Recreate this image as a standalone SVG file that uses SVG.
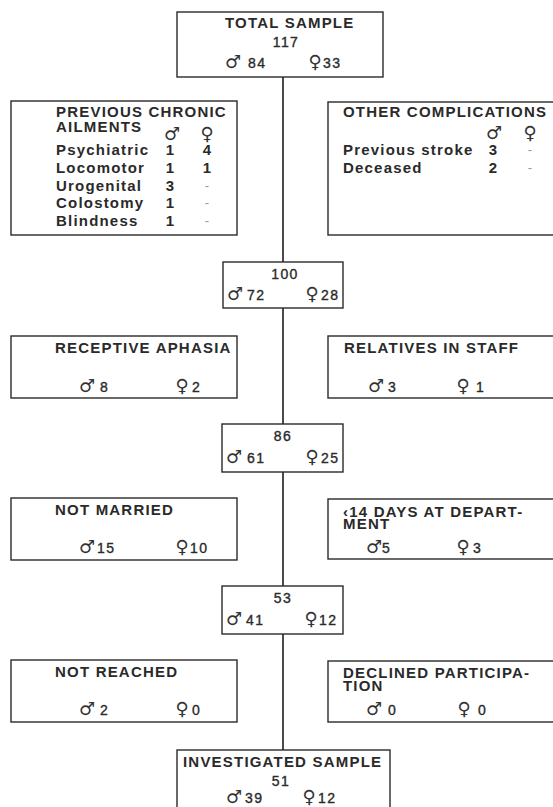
<svg xmlns="http://www.w3.org/2000/svg" width="553" height="807" viewBox="0 0 553 807">
<style>
.box{fill:#fff;stroke:#2a2a2a;stroke-width:1.4}
.ln{stroke:#1e1e1e;stroke-width:1.6;fill:none}
.t{font-family:"Liberation Sans",Arial,sans-serif;font-weight:bold;font-size:15px;letter-spacing:1.2px;fill:#2a2a2a}
.n{font-family:"Liberation Sans",Arial,sans-serif;font-size:14px;letter-spacing:1.4px;fill:#2a2a2a;stroke:#2a2a2a;stroke-width:0.35}
.nb{font-family:"Liberation Sans",Arial,sans-serif;font-weight:bold;font-size:15px;fill:#2a2a2a;text-anchor:middle}
.m{font-family:"DejaVu Sans",sans-serif;font-size:18px;fill:#333;text-anchor:middle}
.c{text-anchor:middle}
.d{font-family:"Liberation Sans",Arial,sans-serif;font-size:13px;fill:#999;text-anchor:middle}
</style>
<rect width="553" height="807" fill="#fff"/>
<g id="connectors">
<line class="ln" x1="283" y1="77" x2="283" y2="262"/>
<line class="ln" x1="283" y1="308" x2="283" y2="424"/>
<line class="ln" x1="283" y1="472" x2="283" y2="586"/>
<line class="ln" x1="283" y1="634" x2="283" y2="750"/>
</g>
<g id="total-sample">
<rect class="box" x="177" y="12" width="206" height="65"/>
<text class="t" x="225" y="28">TOTAL SAMPLE</text>
<text class="n c" x="286" y="47">117</text>
<text class="m" x="233" y="68">♂</text><text class="n" x="248" y="68">84</text>
<text class="m" x="315" y="68">♀</text><text class="n" x="323" y="68">33</text>
</g>
<g id="previous-chronic-ailments">
<rect class="box" x="11" y="101" width="226" height="134"/>
<text class="t" x="56" y="117">PREVIOUS CHRONIC<tspan x="56" y="132">AILMENTS</tspan></text>
<text class="m" x="172" y="140">♂</text><text class="m" x="207" y="140">♀</text>
<text class="t" x="56" y="155">Psychiatric</text><text class="nb" x="170" y="155">1</text><text class="nb" x="207" y="155">4</text>
<text class="t" x="56" y="173">Locomotor</text><text class="nb" x="170" y="173">1</text><text class="nb" x="207" y="173">1</text>
<text class="t" x="56" y="191">Urogenital</text><text class="nb" x="170" y="191">3</text><text class="d" x="207" y="190">-</text>
<text class="t" x="56" y="208">Colostomy</text><text class="nb" x="170" y="208">1</text><text class="d" x="207" y="207">-</text>
<text class="t" x="56" y="226">Blindness</text><text class="nb" x="170" y="226">1</text><text class="d" x="207" y="225">-</text>
</g>
<g id="other-complications">
<rect class="box" x="328" y="102" width="240" height="133"/>
<text class="t" x="343" y="117">OTHER COMPLICATIONS</text>
<text class="m" x="494" y="139">♂</text><text class="m" x="530" y="139">♀</text>
<text class="t" x="343" y="155">Previous stroke</text><text class="nb" x="493" y="155">3</text><text class="d" x="530" y="154">-</text>
<text class="t" x="343" y="173">Deceased</text><text class="nb" x="493" y="173">2</text><text class="d" x="530" y="172">-</text>
</g>
<g id="n100">
<rect class="box" x="223" y="262" width="120" height="46"/>
<text class="n c" x="285" y="279">100</text>
<text class="m" x="235" y="300">♂</text><text class="n" x="247" y="300">72</text>
<text class="m" x="312" y="300">♀</text><text class="n" x="321" y="300">28</text>
</g>
<g id="receptive-aphasia">
<rect class="box" x="11" y="336" width="226" height="62"/>
<text class="t" x="55" y="353">RECEPTIVE APHASIA</text>
<text class="m" x="87" y="392">♂</text><text class="n" x="100" y="392">8</text>
<text class="m" x="182" y="392">♀</text><text class="n" x="192" y="392">2</text>
</g>
<g id="relatives-in-staff">
<rect class="box" x="328" y="336" width="240" height="62"/>
<text class="t" x="344" y="353">RELATIVES IN STAFF</text>
<text class="m" x="376" y="392">♂</text><text class="n" x="388" y="392">3</text>
<text class="m" x="463" y="392">♀</text><text class="n" x="476" y="392">1</text>
</g>
<g id="n86">
<rect class="box" x="222" y="424" width="121" height="48"/>
<text class="n c" x="283" y="441">86</text>
<text class="m" x="234" y="463">♂</text><text class="n" x="247" y="463">61</text>
<text class="m" x="312" y="463">♀</text><text class="n" x="321" y="463">25</text>
</g>
<g id="not-married">
<rect class="box" x="11" y="498" width="226" height="62"/>
<text class="t" x="55" y="515">NOT MARRIED</text>
<text class="m" x="87" y="553">♂</text><text class="n" x="97" y="553">15</text>
<text class="m" x="182" y="553">♀</text><text class="n" x="190" y="553">10</text>
</g>
<g id="days-at-department">
<rect class="box" x="328" y="499" width="240" height="60"/>
<text class="t" x="343" y="517">‹14 DAYS AT DEPART-<tspan x="343" y="529">MENT</tspan></text>
<text class="m" x="374" y="553">♂</text><text class="n" x="382" y="553">5</text>
<text class="m" x="463" y="553">♀</text><text class="n" x="473" y="553">3</text>
</g>
<g id="n53">
<rect class="box" x="222" y="586" width="121" height="48"/>
<text class="n c" x="283" y="603">53</text>
<text class="m" x="234" y="625">♂</text><text class="n" x="246" y="625">41</text>
<text class="m" x="311" y="625">♀</text><text class="n" x="319" y="625">12</text>
</g>
<g id="not-reached">
<rect class="box" x="11" y="660" width="226" height="62"/>
<text class="t" x="55" y="677">NOT REACHED</text>
<text class="m" x="87" y="715">♂</text><text class="n" x="100" y="715">2</text>
<text class="m" x="182" y="715">♀</text><text class="n" x="192" y="715">0</text>
</g>
<g id="declined-participation">
<rect class="box" x="328" y="661" width="240" height="61"/>
<text class="t" x="343" y="678">DECLINED PARTICIPA-<tspan x="343" y="691">TION</tspan></text>
<text class="m" x="374" y="715">♂</text><text class="n" x="388" y="715">0</text>
<text class="m" x="464" y="715">♀</text><text class="n" x="478" y="715">0</text>
</g>
<g id="investigated-sample">
<rect class="box" x="177" y="750" width="213" height="70"/>
<text class="t" x="183" y="767">INVESTIGATED SAMPLE</text>
<text class="n c" x="281" y="786">51</text>
<text class="m" x="234" y="803">♂</text><text class="n" x="245" y="803">39</text>
<text class="m" x="309" y="803">♀</text><text class="n" x="318" y="803">12</text>
</g>
</svg>
